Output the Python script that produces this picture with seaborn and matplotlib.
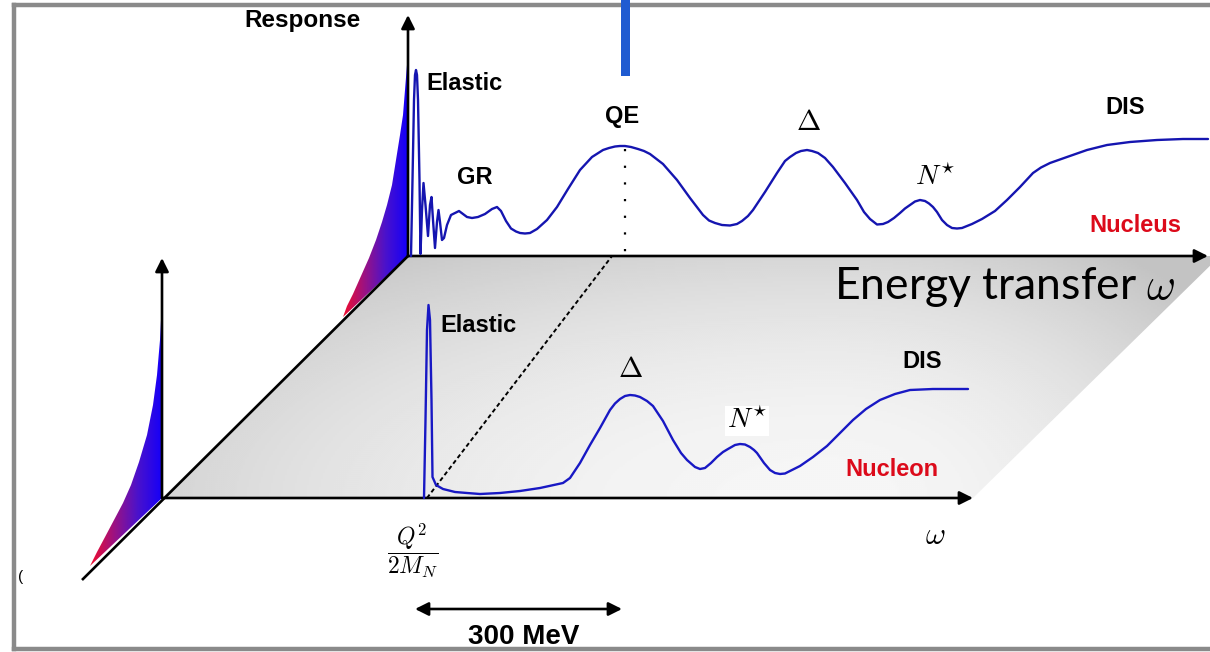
import numpy as np
import matplotlib
matplotlib.use("Agg")
import matplotlib.pyplot as plt
import seaborn as sns
from matplotlib.patches import Polygon, Rectangle
from matplotlib.colors import LinearSegmentedColormap

# ---------------- data (scene coordinates in px, y grows downward) ----------------
nucleus_curve = [(411, 256), (412.5, 180), (414, 100), (415, 75), (416, 70), (417, 75), (418, 100),
                 (419.5, 180), (420.5, 254), (422, 210), (423.5, 183), (425.5, 205), (428, 236),
                 (430, 205), (431.5, 197), (433, 220), (435, 248), (437, 222), (438.5, 210),
                 (440, 222), (442, 240), (444, 238), (447, 225), (451, 215), (455, 213), (459, 211),
                 (463, 214), (467, 217), (472, 218), (478, 217), (485, 214), (492, 209), (497, 207),
                 (501, 211), (506, 221), (511, 228.5), (516, 231.5), (520, 233), (525, 233.5),
                 (530, 233), (537, 229), (547, 220), (557, 207), (568, 189), (580, 170), (592, 157),
                 (603, 150), (609, 148), (615, 146.5), (620, 146), (625, 146), (631, 147), (638, 149),
                 (644, 151), (650, 154), (663, 164), (677, 180), (690, 198), (703, 215), (709, 220.5),
                 (715, 223), (722, 225), (730, 225.5), (737, 224), (742, 221), (748, 216), (753, 210),
                 (765, 192), (777, 173), (785, 161), (790, 157), (796, 153), (801, 151), (807, 150),
                 (812, 151), (818, 153), (825, 158), (833, 167), (845, 183), (857, 200), (864, 212),
                 (870, 219), (877, 224.5), (883, 224), (888, 222), (894, 218), (900, 213), (905, 208.5),
                 (910, 205), (915, 201.5), (920, 200), (925, 201), (929, 203.5), (933, 207),
                 (937, 212), (942, 220), (947, 225), (952, 228), (957, 228.5), (962, 228), (972, 224),
                 (982, 219), (995, 211), (1007, 200), (1020, 187), (1033, 173), (1041, 167.5),
                 (1050, 163), (1067, 157), (1087, 150), (1107, 145), (1130, 142), (1157, 140),
                 (1183, 139), (1208, 139)]

nucleon_curve = [(424, 498), (425.5, 420), (427, 330), (428.5, 305), (430, 320), (431.5, 400),
                 (432.5, 477), (436, 485), (443, 489), (455, 492), (467, 493), (480, 494), (500, 493),
                 (520, 491), (540, 488), (563, 483), (570, 478), (580, 463), (590, 445), (600, 428),
                 (610, 410), (615, 403.5), (620, 399), (625, 396), (630, 395), (635, 395.5),
                 (640, 397), (647, 401), (653, 406), (663, 421), (673, 440), (681, 453), (687, 460),
                 (695, 467), (700, 469), (705, 468), (711, 463), (717, 457), (723, 452), (728, 449),
                 (735, 445), (740, 444), (745, 444.5), (750, 447), (754, 450), (757, 453), (764, 463),
                 (770, 470), (775, 473), (780, 474), (785, 473.5), (790, 471), (800, 466), (813, 457),
                 (827, 446), (840, 433), (853, 420), (866, 409), (880, 400), (895, 394), (910, 390),
                 (933, 389), (968, 389)]

# elastic ridge (coloured surfaces) outlines
nucleus_ridge = [(407, 65), (405, 90), (403, 115), (400, 135), (396, 160), (392, 185), (387, 205),
                 (382, 222), (376, 240), (369, 258), (361, 276), (353, 294), (347, 306), (343, 317)]
nucleon_ridge = [(162, 300), (160, 340), (157, 375), (153, 405), (147, 435), (139, 462),
                 (131, 485), (123, 503), (114, 520), (105, 537), (97, 552), (90, 566)]

# axes geometry
back_origin = (408, 256)
front_origin = (162, 498)
back_axis_end = (1208, 256)
front_axis_end = (973, 498)
back_resp_top = (408, 15)
front_resp_top = (162, 258)
diagonal = [(82, 580), (408, 256)]
plane_corners = [(162, 498), (408, 256), (1220, 256), (973, 498)]
qe_dashed = [(427, 498), (612, 256)]
qe_dotted = [(625, 149), (625, 252)]
scale_arrow = [(415, 609), (622, 609)]

# labels: text, x, y, size, colour
bold_labels = [("Response", 303, 20, 17.5, "black"),
               ("Elastic", 465, 83, 17, "black"),
               ("GR", 475, 177, 17, "black"),
               ("QE", 622, 117, 17, "black"),
               ("DIS", 1125, 108, 17, "black"),
               ("Nucleus", 1135, 225, 17, "#dc0a1a"),
               ("Elastic", 479, 325, 17, "black"),
               ("DIS", 922, 361, 17, "black"),
               ("Nucleon", 892, 470, 17, "#dc0a1a"),
               ("300 MeV", 524, 637, 20, "black")]
math_labels = [(r"$\Delta$", 808, 122, 21),
               (r"$N^{\star}$", 935, 178, 20),
               (r"$\Delta$", 630, 369, 21),
               (r"$\omega$", 935, 536, 22),
               (r"$\dfrac{Q^2}{2M_N}$", 413, 551, 17)]
boxed_label = (r"$N^{\star}$", 747, 421, 20)
axis_title = (r"Energy transfer $\omega$", 1005, 287, 32)

# ---------------- drawing ----------------
sns.set_theme(style="white")
plt.rcParams["font.family"] = ["Liberation Sans", "DejaVu Sans"]
plt.rcParams["mathtext.fontset"] = "cm"

fig = plt.figure(figsize=(12.1, 6.52), dpi=100)
ax = fig.add_axes([0, 0, 1, 1])
ax.set_xlim(0, 1210)
ax.set_ylim(652, 0)
ax.axis("off")

# shaded plane
plane = Polygon(plane_corners, closed=True, facecolor="none", edgecolor="none")
ax.add_patch(plane)
gx = np.arange(150, 1232, 2)
gy = np.arange(250, 506, 2)
X, Y = np.meshgrid(gx, gy)
sx = np.where(X < 830, 800.0, 470.0)
V = 0.965 - 0.19 * ((X - 830) / sx) ** 2 - 0.13 * ((Y - 500) / 250.0) ** 2
V = np.clip(V, 0.765, 0.965)
im = ax.imshow(V, extent=(150, 1232, 506, 250), cmap="gray", vmin=0, vmax=1,
               origin="upper", zorder=1, interpolation="bilinear", aspect="auto")
im.set_clip_path(plane)

# elastic ridges
ridge_cmap = LinearSegmentedColormap.from_list("ridge", ["#1600f8", "#4a12cc", "#9c1282", "#f20c2c"])
def draw_ridge(outline, base_corner):
    poly = Polygon(outline + [base_corner], closed=True, facecolor="none", edgecolor="none")
    ax.add_patch(poly)
    xs = [p[0] for p in outline]
    x_axis, x_tip = max(xs), min(xs)
    ys = [p[1] for p in outline] + [base_corner[1]]
    grad = np.linspace(0, 1, 200)[None, ::-1].repeat(2, axis=0)
    r = ax.imshow(grad, extent=(x_tip, x_axis, max(ys) + 5, min(ys)), cmap=ridge_cmap,
                  vmin=0, vmax=1, aspect="auto", zorder=4, interpolation="bilinear")
    r.set_clip_path(poly)

draw_ridge(nucleus_ridge, back_origin)
draw_ridge(nucleon_ridge, front_origin)

# axes and guide lines
lk = dict(color="black", lw=1.9, zorder=5, solid_capstyle="butt")
ax.plot([p[0] for p in diagonal], [p[1] for p in diagonal], **lk)
ax.plot([qe_dashed[0][0], qe_dashed[1][0]], [qe_dashed[0][1], qe_dashed[1][1]],
        color="black", lw=1.4, ls=(0, (2.2, 1.5)), zorder=3)
ax.plot([qe_dotted[0][0], qe_dotted[1][0]], [qe_dotted[0][1], qe_dotted[1][1]],
        color="black", lw=1.6, ls=(0, (1, 6.5)), zorder=3)

def arrow(start, end, style="-|>"):
    ax.annotate("", xy=end, xytext=start,
                arrowprops=dict(arrowstyle=style, lw=1.9, color="black",
                                mutation_scale=20, shrinkA=0, shrinkB=0), zorder=6)

arrow(back_origin, back_resp_top)
arrow(front_origin, front_resp_top)
arrow(back_origin, back_axis_end)
arrow(front_origin, front_axis_end)
arrow(scale_arrow[0], scale_arrow[1], "<|-|>")

# response curves
for curve, col in ((nucleus_curve, "#1515b0"), (nucleon_curve, "#1818c4")):
    sns.lineplot(x=[p[0] for p in curve], y=[p[1] for p in curve], sort=False,
                 estimator=None, color=col, linewidth=1.7, ax=ax, zorder=7)
for line in ax.get_lines()[-2:]:
    line.set_solid_joinstyle("round")

# labels
for s, x, y, fs, c in bold_labels:
    ax.text(x, y, s, ha="center", va="center", fontsize=fs, color=c, fontweight="bold", zorder=8)
for s, x, y, fs in math_labels:
    ax.text(x, y, s, ha="center", va="center", fontsize=fs, color="black", zorder=8)
s, x, y, fs = boxed_label
ax.text(x, y, s, ha="center", va="center", fontsize=fs, color="black", zorder=8,
        bbox=dict(facecolor="white", edgecolor="none", pad=1))
s, x, y, fs = axis_title
ax.text(x, y, s, ha="center", va="center", fontsize=fs, color="black",
        family=["Lato", "DejaVu Sans"], zorder=8)
ax.text(21, 577, "(", ha="center", va="center", fontsize=11, color="black", zorder=8)

# frame and the blue marker bar
fk = dict(color="#8a8a8a", lw=3.2, zorder=9, solid_capstyle="projecting")
ax.plot([14, 1210], [5, 5], **fk)
ax.plot([14, 14], [5, 649], **fk)
ax.plot([14, 1210], [649, 649], **fk)
ax.add_patch(Rectangle((621, 0), 9, 76, facecolor="#1f5bd1", edgecolor="none", zorder=10))

ax.set_xlim(0, 1210)
ax.set_ylim(652, 0)
fig.savefig("out.png", dpi=100)
